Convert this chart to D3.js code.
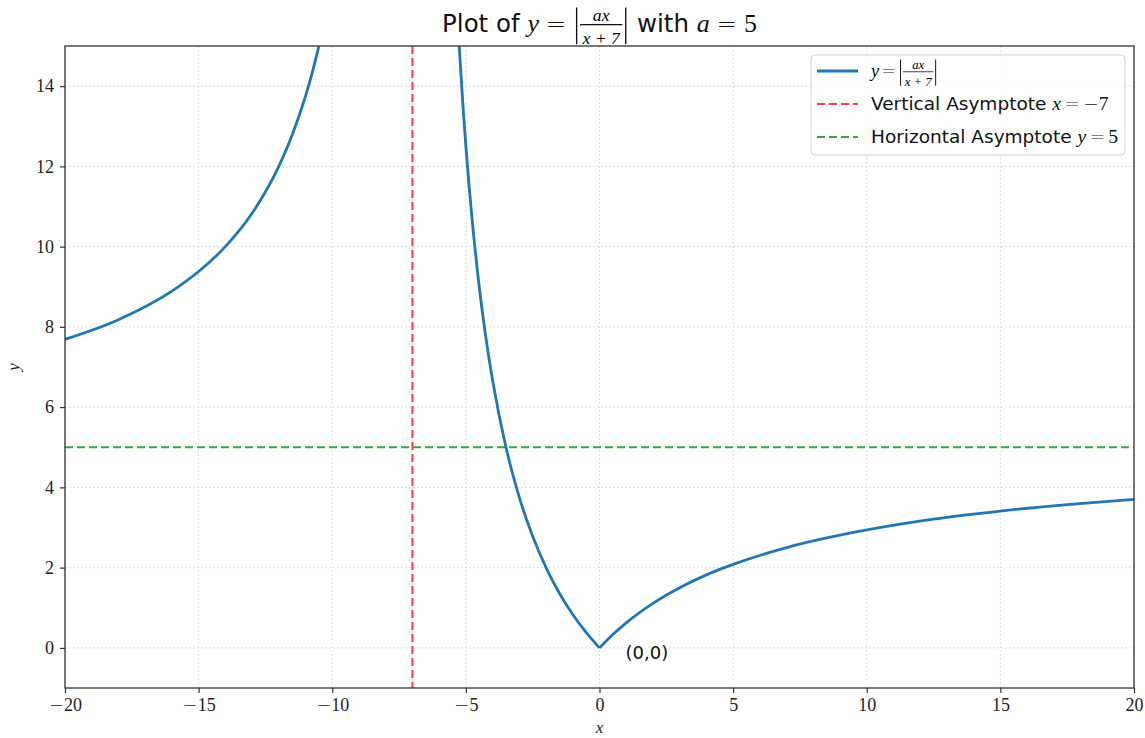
<!DOCTYPE html>
<html>
<head>
<meta charset="utf-8">
<script src="https://cdn.jsdelivr.net/npm/d3@7"></script>
<style>
  body { margin: 0; background: #fff; }
  svg { display: block; }
</style>
</head>
<body>
<div id="chart"></div>
<script>
// Valores (rama izquierda y rama derecha de la curva)
const leftX = [-20, -18, -16, -15, -14, -13, -12, -11.5, -11, -10.75, -10.5]
const leftY = [7.69, 8.18, 8.89, 9.38, 10.0, 10.83, 12.0, 12.78, 13.75, 14.33, 15.0]
const midX = [-5.25, -5.1, -5, -4.75, -4.5, -4.25, -4, -3.5, -3, -2.5, -2, -1.5, -1, -0.5, 0]
const midY = [15.0, 13.42, 12.5, 10.56, 9.0, 7.73, 6.67, 5.0, 3.75, 2.78, 2.0, 1.36, 0.83, 0.385, 0]
const rightX = [0, 0.5, 1, 2, 3, 4, 5, 7, 10, 12.5, 15, 17.5, 20]
const rightY = [0, 0.333, 0.625, 1.11, 1.5, 1.82, 2.08, 2.5, 2.94, 3.21, 3.41, 3.57, 3.70]

const xTicks = [-20, -15, -10, -5, 0, 5, 10, 15, 20]
const yTicks = [0, 2, 4, 6, 8, 10, 12, 14]
const vAsym = -7
const hAsym = 5

const W = 1145, H = 738
const margin = {top: 46, right: 11, bottom: 50, left: 65}
const width = W - margin.left - margin.right
const height = H - margin.top - margin.bottom

const sans = 'DejaVu Sans, sans-serif'
const serif = 'Liberation Serif, DejaVu Serif, serif'
const mathFont = 'Liberation Serif, DejaVu Serif, serif'

const svg = d3.select('#chart').append('svg')
    .attr('width', W).attr('height', H)

const x = d3.scaleLinear().domain([-20, 20]).range([0, width])
const y = d3.scaleLinear().domain([-1, 15]).range([height, 0])

const g = svg.append('g').attr('transform', `translate(${margin.left},${margin.top})`)

svg.append('defs').append('clipPath').attr('id', 'clip')
    .append('rect').attr('width', width).attr('height', height)

// rejilla
g.append('g').selectAll('line').data(xTicks).enter().append('line')
    .attr('x1', d => x(d)).attr('x2', d => x(d)).attr('y1', 0).attr('y2', height)
    .attr('stroke', '#d4d4d4').attr('stroke-width', 0.8).attr('stroke-dasharray', '2,2')
g.append('g').selectAll('line').data(yTicks).enter().append('line')
    .attr('y1', d => y(d)).attr('y2', d => y(d)).attr('x1', 0).attr('x2', width)
    .attr('stroke', '#d4d4d4').attr('stroke-width', 0.8).attr('stroke-dasharray', '2,2')

const plot = g.append('g').attr('clip-path', 'url(#clip)')

// asíntotas
plot.append('line')
    .attr('x1', x(vAsym)).attr('x2', x(vAsym)).attr('y1', 0).attr('y2', height)
    .attr('stroke', '#ff3b3b').attr('stroke-width', 2).attr('stroke-dasharray', '8,4')
plot.append('line')
    .attr('x1', 0).attr('x2', width).attr('y1', y(hAsym)).attr('y2', y(hAsym))
    .attr('stroke', '#3aa63a').attr('stroke-width', 2).attr('stroke-dasharray', '8,4')

// curva
const line = d3.line().x(d => x(d[0])).y(d => y(d[1])).curve(d3.curveMonotoneX)
const branches = [[leftX, leftY], [midX, midY], [rightX, rightY]]
plot.selectAll('path.curve').data(branches).enter().append('path')
    .attr('class', 'curve')
    .attr('d', b => line(d3.zip(b[0], b[1])))
    .attr('fill', 'none').attr('stroke', '#1f77b4').attr('stroke-width', 2.8)
    .attr('stroke-linejoin', 'round')

// anotación
g.append('text').attr('x', x(0) + 26).attr('y', y(0) + 11)
    .attr('font-family', sans).attr('font-size', 18).attr('fill', '#111')
    .text('(0,0)')

// ejes (el signo menos va en otra fuente, más ancho, como en el original)
const xAxis = g.append('g').attr('transform', `translate(0,${height})`)
    .call(d3.axisBottom(x).tickValues(xTicks).tickSize(5).tickPadding(5).tickFormat(''))
const yAxis = g.append('g')
    .call(d3.axisLeft(y).tickValues(yTicks).tickSize(5).tickPadding(6))
;[xAxis, yAxis].forEach(a => {
    a.select('.domain').remove()
    a.selectAll('line').attr('stroke', '#333').attr('stroke-width', 1.2)
    a.selectAll('text').attr('font-family', serif).attr('font-size', 18).attr('fill', '#222')
})
xAxis.selectAll('.tick text').each(function (d) {
    const t = d3.select(this)
    if (d < 0) {
        t.append('tspan').attr('font-family', sans).attr('font-weight', 300).text('\u2212')
    }
    t.append('tspan').text(Math.abs(d))
})

// marco
g.append('rect').attr('width', width).attr('height', height)
    .attr('fill', 'none').attr('stroke', '#333').attr('stroke-width', 1.3)

// etiquetas de ejes
svg.append('text').attr('x', margin.left + x(0)).attr('y', 733)
    .attr('text-anchor', 'middle').attr('font-family', mathFont).attr('font-style', 'italic')
    .attr('font-size', 17).attr('fill', '#222').text('x')
svg.append('text').attr('transform', `translate(19,${margin.top + y(7)}) rotate(-90)`)
    .attr('text-anchor', 'middle').attr('font-family', mathFont).attr('font-style', 'italic')
    .attr('font-size', 17).attr('fill', '#222').text('y')

// texto con fórmulas: piezas colocadas una detrás de otra
function mathText(parent, pieces, size) {
    const grp = parent.append('g')
    let cx = 0
    pieces.forEach(p => {
        if (p.gap) {
            cx += p.gap * size
        } else if (p.frac) {
            const fs = size * 0.72
            const num = grp.append('text').attr('y', -size * 0.45)
                .attr('font-family', mathFont).attr('font-style', 'italic').attr('font-size', fs).text(p.frac[0])
            const den = grp.append('text').attr('y', size * 0.5)
                .attr('font-family', mathFont).attr('font-style', 'italic').attr('font-size', fs)
                .style('white-space', 'pre').text(p.frac[1])
            const wn = num.node().getComputedTextLength()
            const wd = den.node().getComputedTextLength()
            const w = Math.max(wn, wd) + size * 0.2
            num.attr('x', cx + (w - wn) / 2)
            den.attr('x', cx + (w - wd) / 2)
            grp.append('line').attr('x1', cx).attr('x2', cx + w)
                .attr('y1', -size * 0.3).attr('y2', -size * 0.3)
                .attr('stroke', '#111').attr('stroke-width', Math.max(0.7, size * 0.045))
            cx += w
        } else if (p.bar) {
            grp.append('line').attr('x1', cx + size * 0.14).attr('x2', cx + size * 0.14)
                .attr('y1', -size * 1.0).attr('y2', size * 0.5)
                .attr('stroke', '#111').attr('stroke-width', Math.max(0.8, size * 0.055))
            cx += size * 0.28
        } else {
            // op: signos = y − en DejaVu Sans fina; math: letras en cursiva serif
            const fam = p.op ? sans : (p.math ? mathFont : sans)
            const t = grp.append('text').attr('x', cx).attr('y', 0)
                .attr('font-size', p.math ? size * 1.06 : size).attr('fill', '#111')
                .attr('font-family', fam)
                .attr('font-weight', p.op ? 300 : 'normal')
                .attr('font-style', p.italic ? 'italic' : 'normal')
                .style('white-space', 'pre')
                .text(p.t)
            cx += t.node().getComputedTextLength()
        }
    })
    return {grp, width: cx}
}

// título
const title = mathText(svg, [
    {t: 'Plot of '},
    {t: 'y', math: true, italic: true},
    {gap: 0.28}, {t: '=', op: true}, {gap: 0.28},
    {bar: true},
    {frac: ['ax', 'x + 7']},
    {bar: true},
    {t: ' with '},
    {t: 'a', math: true, italic: true},
    {gap: 0.28}, {t: '=', op: true}, {gap: 0.28},
    {t: '5', math: true}
], 24.5)
title.grp.attr('transform', `translate(${margin.left + width / 2 - title.width / 2},32)`)

// leyenda
const legend = svg.append('g').attr('transform', 'translate(811,55)')
legend.append('rect').attr('width', 314).attr('height', 100).attr('rx', 4)
    .attr('fill', '#fff').attr('fill-opacity', 0.85).attr('stroke', '#d0d0d0')

const legendItems = [
    {color: '#1f77b4', dash: null, size: 17.5, pieces: [
        {t: 'y', math: true, italic: true}, {gap: 0.12}, {t: '=', op: true}, {gap: 0.12},
        {bar: true}, {frac: ['ax', 'x + 7']}, {bar: true}]},
    {color: '#ff3b3b', dash: '8,4', size: 18.5, pieces: [
        {t: 'Vertical Asymptote '}, {t: 'x', math: true, italic: true},
        {gap: 0.18}, {t: '=', op: true}, {gap: 0.18}, {t: '\u2212', op: true}, {t: '7', math: true}]},
    {color: '#3aa63a', dash: '8,4', size: 18.5, pieces: [
        {t: 'Horizontal Asymptote '}, {t: 'y', math: true, italic: true},
        {gap: 0.18}, {t: '=', op: true}, {gap: 0.18}, {t: '5', math: true}]}
]
legendItems.forEach((it, i) => {
    const yy = 16 + i * 33
    legend.append('line').attr('x1', 6).attr('x2', 47).attr('y1', yy).attr('y2', yy)
        .attr('stroke', it.color).attr('stroke-width', it.dash ? 2 : 2.8)
        .attr('stroke-dasharray', it.dash)
    const m = mathText(legend, it.pieces, it.size)
    m.grp.attr('transform', `translate(60,${yy + 6})`)
})
</script>
</body>
</html>
